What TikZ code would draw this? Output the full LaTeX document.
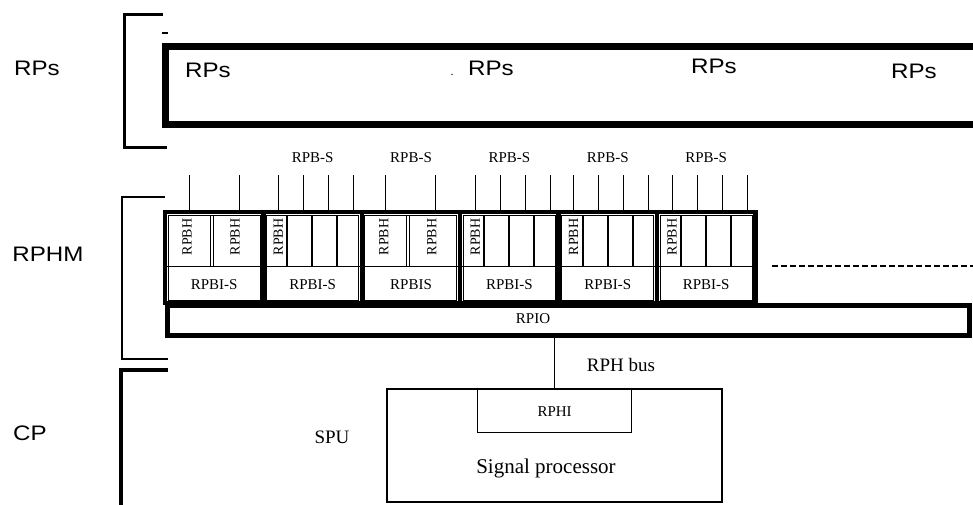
\documentclass[tikz,border=0pt]{standalone}
\usepackage{fontspec}
\setmainfont{Liberation Serif}
\newfontfamily\labelsans{Liberation Sans}
\usetikzlibrary{positioning}
\tikzset{
  bigtag/.style={font=\labelsans\fontsize{21}{21}\selectfont, inner sep=0pt, xscale=1.15},
  midtag/.style={font=\fontsize{19}{19}\selectfont, inner sep=0pt},
  smalltag/.style={font=\fontsize{15}{15}\selectfont, inner sep=0pt},
  bhtag/.style={font=\fontsize{14}{14}\selectfont, inner sep=0pt, rotate=90},
  cardframe/.style={line width=4.5pt},
  cellline/.style={line width=0.8pt},
  sepline/.style={line width=2pt},
  pinline/.style={line width=1pt},
}
\begin{document}
\begin{tikzpicture}[x=1pt,y=-1pt]
  \useasboundingbox (0,0) rectangle (973,505);
  % level brackets on the left
  \draw[line width=3pt] (163,15) -- (124,15) -- (124,148) -- (167,148);
  \draw[line width=1.2pt] (162,33) -- (168,33);
  \draw[line width=2pt] (165,197) -- (122,197) -- (122,359) -- (168,359);
  \draw[line width=4pt] (168,370) -- (121,370) -- (121,515);
  \node[bigtag] (rpsside) at (37,68) {RPs};
  \node[bigtag] (rphm) at (48,254) {RPHM};
  \node[bigtag] (cp) at (30,433) {CP};
  % RPs shelf, open to the right
  \draw[line width=7pt] (985,47) -- (165,47) -- (165,125) -- (985,125);
  \foreach \x/\y [count=\n] in {208/70,491/68,714/66,914/71}
    \node[bigtag] (rp\n) at (\x,\y) {RPs};
  \node[inner sep=0pt, font=\fontsize{12}{12}\selectfont] (dot) at (452,75) {.};
  % RPHM cards
  \foreach \i/\txt in {0/RPBI-S,1/RPBI-S,2/RPBIS,3/RPBI-S,4/RPBI-S,5/RPBI-S}{
    \draw[cardframe] ({165+98.4*\i},212) rectangle ++(98.4,91);
    \draw[cellline] ({168+98.4*\i},215) rectangle ++(92,85);
    \draw[cellline] ({165+98.4*\i},266) -- ++(98.4,0);
    \node[smalltag] (bis\i) at ({214.2+98.4*\i},285) {\txt};
  }
  \foreach \i in {1,...,5}
    \node[smalltag] (bs\i) at ({214.2+98.4*\i},158) {RPB-S};
  % cards with two wide slots
  \foreach \i in {0,2}{
    \draw[cellline] ({210+98.4*\i},215) -- ++(0,51);
    \draw[cellline] ({213+98.4*\i},215) -- ++(0,51);
    \foreach \p in {24,74}
      \draw[pinline] ({165+98.4*\i+\p},175) -- ++(0,37);
    \node[bhtag] (bha\i) at ({187+98.4*\i},237) {RPBH};
    \node[bhtag] (bhb\i) at ({235+98.4*\i},237) {RPBH};
  }
  % cards with four narrow slots
  \foreach \i in {1,3,4,5}{
    \foreach \s in {24,49,74}
      \draw[sepline] ({165+98.4*\i+\s},215) -- ++(0,51);
    \foreach \p in {15,40,65,90}
      \draw[pinline] ({165+98.4*\i+\p},175) -- ++(0,37);
    \node[bhtag] (bh\i) at ({180+98.4*\i},237) {RPBH};
  }
  \draw[line width=2pt, dash pattern=on 6pt off 3pt] (772,266) -- (985,266);
  % RPIO strip
  \node[draw, cardframe, minimum width=802pt, minimum height=30pt, inner sep=0pt,
        anchor=north west] (rpiobox) at (165,303) {};
  \node[smalltag] (rpio) at (533,319) {RPIO};
  % signal processor unit
  \draw[line width=1.3pt] (387,389) rectangle (722,502);
  \node[draw, line width=1.3pt, minimum width=154pt, minimum height=43pt, inner sep=0pt,
        anchor=north west, smalltag] (rphi) at (477,389) {RPHI};
  \draw[line width=1.2pt] (rphi.north) -- (rphi.north |- rpiobox.south);
  \node[midtag] (bus) at (621,365) {RPH bus};
  \node[midtag] (spu) at (332,437) {SPU};
  \node[font=\fontsize{21}{21}\selectfont, inner sep=0pt] (sigproc) at (546,468) {Signal processor};
\end{tikzpicture}
\end{document}
